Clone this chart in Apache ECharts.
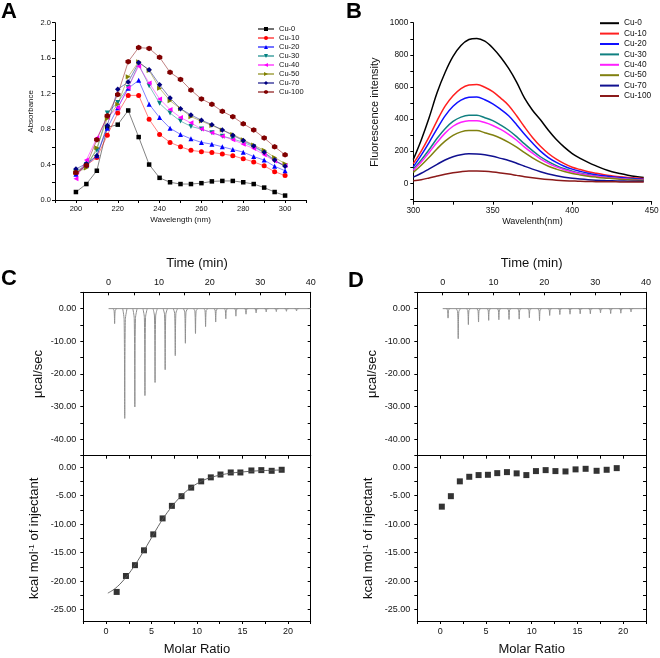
<!DOCTYPE html>
<html><head><meta charset="utf-8">
<script src="https://cdn.jsdelivr.net/npm/echarts@6/dist/echarts.min.js"></script>
<style>
html,body{margin:0;padding:0;background:#fff;width:660px;height:658px;overflow:hidden}
.c{position:absolute;left:0;top:0;width:660px;height:658px}
</style></head>
<body>
<div id="chA" class="c"></div><div id="chB" class="c"></div><div id="chCD" class="c"></div>
<script>
// ---------- data ----------
const seriesNames = ['Cu-0','Cu-10','Cu-20','Cu-30','Cu-40','Cu-50','Cu-70','Cu-100'];

// Panel A: absorbance
const absWl = [200,205,210,215,220,225,230,235,240,245,250,255,260,265,270,275,280,285,290,295,300];
const absCu0   = [0.09,0.18,0.33,0.82,0.85,1.01,0.71,0.40,0.25,0.20,0.18,0.18,0.19,0.21,0.215,0.215,0.20,0.18,0.14,0.09,0.05];
const absCu10  = [0.30,0.39,0.48,0.73,0.98,1.18,1.18,0.91,0.74,0.65,0.60,0.56,0.545,0.535,0.52,0.50,0.465,0.43,0.385,0.32,0.275];
const absCu20  = [0.29,0.39,0.50,0.81,1.04,1.26,1.35,1.08,0.93,0.81,0.74,0.69,0.65,0.63,0.60,0.57,0.54,0.49,0.45,0.38,0.33];
const absCu30  = [0.32,0.40,0.56,0.98,1.10,1.27,1.53,1.29,1.09,0.98,0.89,0.83,0.80,0.76,0.72,0.69,0.65,0.60,0.53,0.44,0.38];
const absCu40  = [0.24,0.45,0.70,0.93,1.04,1.27,1.51,1.32,1.14,1.02,0.93,0.87,0.80,0.76,0.72,0.68,0.63,0.58,0.51,0.44,0.39];
const absCu50  = [0.31,0.36,0.59,0.92,1.08,1.39,1.56,1.46,1.26,1.12,1.03,0.94,0.89,0.84,0.79,0.74,0.68,0.62,0.56,0.48,0.41];
const absCu70  = [0.35,0.41,0.50,0.84,1.25,1.33,1.55,1.47,1.30,1.15,1.03,0.96,0.90,0.85,0.79,0.73,0.67,0.61,0.54,0.45,0.38];
const absCu100 = [0.31,0.39,0.68,0.95,1.19,1.56,1.72,1.71,1.61,1.44,1.36,1.24,1.14,1.08,1.00,0.94,0.86,0.79,0.70,0.60,0.51];
const absTickLabels = [200,220,240,260,280,300];
const absYLabels = [0,0.4,0.8,1.2,1.6,2.0];

// Panel B: fluorescence
const flWl = [300,305,310,315,320,325,330,335,340,345,350,355,360,365,370,375,380,385,390,395,400,405,410,415,420,425,430,435,440,445];
const flCu0   = [148,270,410,565,690,790,858,895,902,885,843,785,715,630,530,455,395,330,272,225,185,155,130,108,88,72,60,50,42,36];
const flCu10  = [122,200,290,390,480,545,590,612,615,598,570,530,485,420,350,285,230,185,150,122,100,85,72,62,53,46,40,36,33,30];
const flCu20  = [102,175,255,340,420,480,518,535,537,520,495,460,420,365,305,250,200,160,130,106,88,74,62,53,46,40,35,31,28,25];
const flCu30  = [88,145,210,280,340,385,412,423,423,408,390,362,330,290,245,203,165,135,110,90,75,63,53,45,39,34,30,27,24,22];
const flCu40  = [80,132,192,255,312,355,380,390,390,378,360,335,305,268,225,187,152,124,102,84,70,59,50,43,37,32,28,25,22,20];
const flCu50  = [68,112,162,215,262,298,320,328,328,315,300,280,255,225,190,158,130,106,88,73,61,52,44,38,33,29,25,22,20,18];
const flCu70  = [38,62,90,118,145,165,178,183,182,177,168,155,142,125,106,88,72,58,47,38,31,26,22,19,17,15,14,13,12,12];
const flCu100 = [15,22,33,45,56,65,72,76,76,74,70,64,57,49,41,34,28,23,19,16,14,12,11,10,9,9,8,8,8,8];
const flXLabels = [300,350,400,450];
const flYLabels = [0,200,400,600,800,1000];

// Panel C: ITC raw injections (time min, peak µcal/sec) and integrated heats
const itcTimeC = [1.2,3.2,5.2,7.2,9.2,11.2,13.2,15.2,17.2,19.2,21.2,23.2,25.2,27.2,29.2,31.2,33.2,35.2,37.2];
const itcPeakC = [-4.6,-33.6,-30.1,-26.6,-22.6,-18.7,-14.4,-10.6,-7.6,-5.5,-4.1,-3.1,-2.3,-1.7,-1.3,-1.0,-0.9,-0.8,-0.7];
const ratioC = [1.17,2.19,3.18,4.17,5.19,6.22,7.24,8.30,9.36,10.46,11.52,12.58,13.71,14.77,15.98,17.07,18.21,19.31];
const heatC  = [-21.9,-19.1,-17.2,-14.6,-11.8,-9.0,-6.8,-5.1,-3.6,-2.5,-1.8,-1.3,-0.94,-0.94,-0.59,-0.53,-0.65,-0.47];
const fitRatioC = [0.2,1,2,3,4,5,6,7,8,9,10,11,12,13,14,15,16,17,18,19,19.4];
const fitHeatC  = [-22.1,-21.3,-19.7,-17.6,-15.1,-12.4,-9.7,-7.4,-5.5,-4.0,-2.9,-2.1,-1.6,-1.25,-1.0,-0.85,-0.72,-0.63,-0.57,-0.52,-0.5];

// Panel D
const itcTimeD = [1.05,3.05,5.05,7.05,9.05,11.05,13.05,15.05,17.05,19.05,21.05,23.05,25.05,27.05,29.05,31.05,33.05,35.05,37.05];
const itcPeakD = [-2.9,-9.2,-4.9,-4.1,-3.6,-3.4,-3.3,-3.2,-2.8,-3.7,-2.1,-1.8,-1.7,-1.6,-1.6,-1.3,-1.5,-1.4,-1.0];
const ratioD = [0.18,1.17,2.15,3.18,4.2,5.22,6.24,7.3,8.36,9.42,10.47,11.53,12.6,13.7,14.8,15.9,17.1,18.2,19.3];
const heatD  = [-6.94,-5.1,-2.5,-1.7,-1.4,-1.35,-1.06,-0.88,-1.1,-1.4,-0.7,-0.53,-0.7,-0.76,-0.4,-0.3,-0.65,-0.47,-0.18];

const baselineTime = [0,40];
const timeLabels = [0,10,20,30,40];
const timeTicks = [-5,0,5,10,15,20,25,30,35,40];
const rawYLabels = [0,-10,-20,-30,-40];
const rawYTicks = [5,0,-5,-10,-15,-20,-25,-30,-35,-40,-45];
const ratioLabels = [0,5,10,15,20];
const ratioTicks = [-2.5,0,2.5,5,7.5,10,12.5,15,17.5,20,22.5];
const heatYLabels = [0,-5,-10,-15,-20,-25];
const heatYTicks = [0,-2.5,-5,-7.5,-10,-12.5,-15,-17.5,-20,-22.5,-25];

// ---------- helpers ----------
const FONT = 'Liberation Sans, Arial, Helvetica, sans-serif';
function axis(p){
  const a = {
    type:'value', gridIndex:p.grid||0, position:p.pos, min:p.min, max:p.max,
    splitLine:{show:false},
    axisLine:{show:true, onZero:false, lineStyle:{color:'#000', width:1}},
    axisTick:{show:!!p.ticks, inside:!!p.inside, length:p.tickLen||3, customValues:p.ticks, lineStyle:{color:'#000', width:1}},
    axisLabel:{show:!!p.labels, margin:p.margin||5, color:'#111', fontFamily:FONT, fontSize:p.fs||9,
      formatter: p.fmt || (v => String(v))}
  };
  if (p.labels) a.axisLabel.customValues = p.labels;
  if (p.name){
    a.name = p.name; a.nameLocation = 'middle'; a.nameGap = p.nameGap;
    a.nameTextStyle = {color:'#111', fontFamily:FONT, fontSize:p.nameSize||13};
    if (p.rich) a.nameTextStyle.rich = p.rich;
  }
  return a;
}
const pair = (xs, ys) => xs.map((x,i)=>[x, ys[i]]);

// ---------- Panel A ----------
const hexPath = 'path://M0,-1L0.866,-0.5L0.866,0.5L0,1L-0.866,0.5L-0.866,-0.5Z';
const absData = [absCu0,absCu10,absCu20,absCu30,absCu40,absCu50,absCu70,absCu100];
const absColors = ['#000000','#ff0000','#0000ff','#008080','#ff00ff','#808000','#000080','#800000'];
const absSymbols = ['rect','circle','triangle','triangle','triangle','triangle','diamond',hexPath];
const absRot = [0,0,0,180,90,-90,0,0];
const absSize = [4.5,5,5,5,5,5,5.5,5.5];

const chA = echarts.init(document.getElementById('chA'), null, {renderer:'canvas'});
chA.setOption({
  animation:false,
  grid:{left:55, top:22.7, width:251, height:177.3, outerBoundsMode:'none'},
  xAxis: axis({min:190, max:310, labels:absTickLabels, ticks:[190,200,210,220,230,240,250,260,270,280,290,300,310],
    fs:7.5, margin:5, name:'Wavelength (nm)', nameGap:16, nameSize:8}),
  yAxis: axis({min:0, max:2, labels:absYLabels, ticks:[0,0.2,0.4,0.6,0.8,1.0,1.2,1.4,1.6,1.8,2.0],
    fmt:v=>v.toFixed(1), fs:7.5, margin:4, name:'Absorbance', nameGap:20, nameSize:8}),
  legend:{orient:'vertical', left:257, top:24.5, itemWidth:16, itemHeight:5, itemGap:0, padding:0,
    textStyle:{fontFamily:FONT, fontSize:7.5, lineHeight:9, color:'#111'}, data:seriesNames},
  series: seriesNames.map((n,i)=>({
    name:n, type:'line', data:pair(absWl, absData[i]),
    symbol:absSymbols[i], symbolSize:absSize[i], symbolRotate:absRot[i], showAllSymbol:true,
    itemStyle:{color:absColors[i]}, lineStyle:{color:absColors[i], width:0.9, opacity:0.55}
  }))
});

// ---------- Panel B ----------
const flData = [flCu0,flCu10,flCu20,flCu30,flCu40,flCu50,flCu70,flCu100];
const flColors = ['#000000','#ff2020','#1010ff','#108080','#ff20ff','#808010','#101090','#8b1a1a'];
const chB = echarts.init(document.getElementById('chB'), null, {renderer:'canvas'});
chB.setOption({
  animation:false,
  grid:{left:413.3, top:22.7, width:238.4, height:179, outerBoundsMode:'none'},
  xAxis: axis({min:300, max:450, labels:flXLabels, ticks:[300,325,350,375,400,425,450],
    fs:8.3, margin:5, name:'Wavelenth(nm)', nameGap:15, nameSize:9}),
  yAxis: axis({min:-115, max:1000, labels:flYLabels, ticks:[-100,0,100,200,300,400,500,600,700,800,900,1000],
    fs:8.3, margin:5, name:'Fluorescence intensity', nameGap:33, nameSize:11}),
  legend:{orient:'vertical', left:600, top:18, itemWidth:19, itemHeight:2, itemGap:0, padding:0, icon:'rect',
    textStyle:{fontFamily:FONT, fontSize:8.3, lineHeight:10.4, color:'#111'}, data:seriesNames},
  series: seriesNames.map((n,i)=>({
    name:n, type:'line', data:pair(flWl, flData[i]), smooth:0.35, symbol:'none',
    itemStyle:{color:flColors[i]}, lineStyle:{color:flColors[i], width:1.5}
  }))
});

// ---------- Panels C & D ----------
function spikeSeries(xi, yi, times, peaks){
  return {type:'custom', xAxisIndex:xi, yAxisIndex:yi, silent:true, clip:true,
    data: pair(times, peaks),
    renderItem:(params, api)=>{
      const t = api.value(0), d = api.value(1);
      const pts = [[t-0.4,0],[t-0.12,d*0.1],[t,d],[t+0.12,d*0.1],[t+0.45,0]].map(v=>api.coord(v));
      return {type:'polyline', shape:{points:pts, smooth:0.3}, style:{fill:null, stroke:'#8e8e8e', lineWidth:1}};
    }};
}
const richSup = {sup:{fontSize:8, fontFamily:FONT, color:'#111', verticalAlign:'top', padding:[0,0,7,0]}};
const kcalName = 'kcal mol{sup|-1} of injectant';
const fmt2 = v => v.toFixed(2);

function panelAxes(g0, g1){
  const xs = [
    axis({grid:g0, pos:'top', min:-5, max:40, labels:timeLabels, ticks:timeTicks, inside:true, margin:5.5, name:'Time (min)', nameGap:22}),
    axis({grid:g0, pos:'bottom', min:-5, max:40}),
    axis({grid:g1, pos:'bottom', min:-2.5, max:22.5, labels:ratioLabels, ticks:ratioTicks, margin:6, name:'Molar Ratio', nameGap:22}),
    axis({grid:g1, pos:'top', min:-2.5, max:22.5, ticks:ratioTicks, inside:true})
  ];
  const ys = [
    axis({grid:g0, pos:'left', min:-45, max:5, labels:rawYLabels, ticks:rawYTicks, fmt:fmt2, margin:7, name:'μcal/sec', nameGap:38}),
    axis({grid:g0, pos:'right', min:-45, max:5, ticks:rawYTicks, inside:true}),
    axis({grid:g1, pos:'left', min:-27, max:2, labels:heatYLabels, ticks:heatYTicks, fmt:fmt2, margin:7, name:kcalName, nameGap:41, rich:richSup}),
    axis({grid:g1, pos:'right', min:-27, max:2, ticks:heatYTicks, inside:true})
  ];
  return {xs, ys};
}
const pc = panelAxes(0,1), pd = panelAxes(2,3);

const chCD = echarts.init(document.getElementById('chCD'), null, {renderer:'canvas'});
chCD.setOption({
  animation:false,
  grid:[
    {left:83.3, top:292.3, width:227.4, height:163.4, outerBoundsMode:'none'},
    {left:83.3, top:455.7, width:227.4, height:165.3, outerBoundsMode:'none'},
    {left:417.3, top:292.3, width:228.7, height:163.4, outerBoundsMode:'none'},
    {left:417.3, top:455.7, width:228.7, height:165.3, outerBoundsMode:'none'}
  ],
  xAxis: pc.xs.concat(pd.xs),
  yAxis: pc.ys.concat(pd.ys),
  graphic:[
    {type:'text', left:1, top:1, style:{text:'A', font:'bold 22px '+FONT, fill:'#000'}},
    {type:'text', left:346, top:1, style:{text:'B', font:'bold 22px '+FONT, fill:'#000'}},
    {type:'text', left:1, top:268, style:{text:'C', font:'bold 22px '+FONT, fill:'#000'}},
    {type:'text', left:348, top:270, style:{text:'D', font:'bold 22px '+FONT, fill:'#000'}}
  ],
  series:[
    {type:'line', xAxisIndex:0, yAxisIndex:0, data:baselineTime.map(t=>[t,0]), symbol:'none', lineStyle:{color:'#8e8e8e', width:1}, silent:true},
    spikeSeries(0, 0, itcTimeC, itcPeakC),
    {type:'line', xAxisIndex:2, yAxisIndex:2, data:pair(fitRatioC, fitHeatC), smooth:0.4, symbol:'none', lineStyle:{color:'#555', width:0.9}, silent:true},
    {type:'scatter', xAxisIndex:2, yAxisIndex:2, data:pair(ratioC, heatC), symbol:'rect', symbolSize:6, itemStyle:{color:'#000'}},
    {type:'line', xAxisIndex:4, yAxisIndex:4, data:baselineTime.map(t=>[t,0]), symbol:'none', lineStyle:{color:'#8e8e8e', width:1}, silent:true},
    spikeSeries(4, 4, itcTimeD, itcPeakD),
    {type:'scatter', xAxisIndex:6, yAxisIndex:6, data:pair(ratioD, heatD), symbol:'rect', symbolSize:6, itemStyle:{color:'#000'}}
  ]
});
</script>
</body></html>
